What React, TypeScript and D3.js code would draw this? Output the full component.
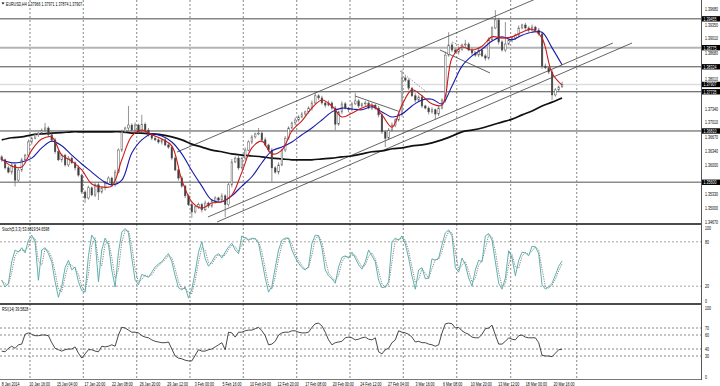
import React from 'react';
import * as d3 from 'd3';

// EURUSD H4, each candle here stands for about two H4 bars
const firstOpen = 1.362;
const closes = [
  1.3613, 1.3594, 1.3584, 1.3601, 1.3565, 1.3589, 1.3613, 1.3624, 1.3655, 1.3664,
  1.3672, 1.3676, 1.3683, 1.3688, 1.3672, 1.366, 1.3632, 1.3613, 1.3624, 1.3601,
  1.3617, 1.3606, 1.3594, 1.3577, 1.3537, 1.3523, 1.3547, 1.353, 1.3554, 1.3537,
  1.3547, 1.3558, 1.357, 1.3554, 1.3584, 1.3636, 1.3679, 1.3688, 1.3695, 1.3683,
  1.3695, 1.3679, 1.3697, 1.3683, 1.3672, 1.3664, 1.366, 1.3655, 1.366, 1.3648,
  1.3643, 1.3617, 1.3589, 1.357, 1.3551, 1.3528, 1.3507, 1.349, 1.3502, 1.3507,
  1.3495, 1.3511, 1.3504, 1.3516, 1.3523, 1.3518, 1.3528, 1.3507, 1.3554, 1.3608,
  1.3617, 1.3594, 1.3617, 1.3636, 1.3655, 1.3667, 1.3674, 1.3676, 1.366, 1.3648,
  1.3636, 1.3594, 1.3584, 1.3601, 1.3636, 1.3664, 1.3688, 1.37, 1.3707, 1.3714,
  1.3721, 1.3726, 1.3735, 1.3747, 1.3764, 1.3759, 1.3747, 1.3742, 1.3747, 1.3735,
  1.3697, 1.3726, 1.3745, 1.3735, 1.3731, 1.3745, 1.3752, 1.374, 1.3745, 1.3747,
  1.3735, 1.3742, 1.3735, 1.3719, 1.3679, 1.3664, 1.3683, 1.3695, 1.3707, 1.3721,
  1.3806, 1.3801, 1.3782, 1.3764, 1.3754, 1.3761, 1.374, 1.3735, 1.3726, 1.3731,
  1.3721, 1.3735, 1.3754, 1.386, 1.3884, 1.3872, 1.3867, 1.3874, 1.3884, 1.3886,
  1.3872, 1.3865, 1.386, 1.3872, 1.3858, 1.3853, 1.3896, 1.3924, 1.3943, 1.3891,
  1.3872, 1.3886, 1.3896, 1.39, 1.3907, 1.3924, 1.3931, 1.3924, 1.3919, 1.3926,
  1.3919, 1.391, 1.3834, 1.383, 1.382, 1.3766, 1.3778, 1.3785, 1.3791,
];
// wick lengths in pips above / below the body
const hiWick = [
  4, 3, 5, 6, 3, 4, 5, 3, 6, 4, 5, 3, 4, 12, 4, 3, 5, 6, 4, 3,
  5, 4, 3, 6, 3, 4, 5, 3, 4, 6, 3, 5, 4, 3, 6, 4, 5, 3, 45, 4,
  6, 3, 22, 4, 5, 3, 6, 4, 3, 5, 4, 3, 6, 4, 5, 3, 4, 6, 3, 5,
  4, 6, 3, 5, 4, 3, 6, 4, 5, 7, 4, 5, 3, 6, 4, 5, 3, 12, 4, 6,
  3, 5, 4, 6, 3, 5, 4, 3, 6, 4, 5, 3, 4, 6, 11, 4, 5, 3, 6, 4,
  5, 3, 6, 4, 3, 5, 19, 4, 3, 5, 4, 6, 3, 5, 4, 3, 5, 6, 4, 8,
  19, 5, 4, 3, 6, 4, 5, 3, 4, 6, 3, 5, 4, 8, 30, 5, 4, 6, 3, 10,
  4, 5, 3, 6, 4, 5, 6, 4, 23, 5, 4, 52, 3, 5, 4, 6, 3, 5, 4, 6,
  3, 5, 4, 6, 3, 5, 4, 3, 6,
];
const loWick = [
  5, 4, 3, 6, 15, 4, 5, 3, 4, 6, 3, 5, 4, 3, 6, 4, 5, 3, 6, 4,
  5, 3, 6, 4, 5, 12, 4, 3, 5, 19, 4, 6, 3, 5, 4, 3, 5, 4, 6, 3,
  5, 4, 3, 6, 4, 5, 3, 4, 6, 3, 4, 5, 3, 6, 4, 5, 3, 14, 4, 5,
  6, 3, 5, 4, 6, 3, 5, 29, 4, 6, 3, 5, 4, 6, 3, 5, 4, 3, 6, 4,
  5, 33, 4, 6, 3, 5, 4, 3, 6, 4, 3, 5, 4, 6, 3, 5, 4, 6, 3, 5,
  14, 4, 5, 3, 6, 4, 3, 5, 4, 6, 3, 5, 4, 6, 5, 21, 4, 3, 5, 4,
  6, 4, 5, 3, 6, 4, 5, 3, 6, 4, 14, 5, 3, 6, 4, 5, 3, 6, 4, 5,
  3, 6, 4, 5, 3, 6, 4, 5, 3, 6, 4, 5, 3, 6, 4, 5, 3, 4, 6, 3,
  5, 4, 6, 3, 5, 12, 4, 5, 2,
];

// moving averages, one value every third candle
const maRed = [
  1.3615, 1.3598, 1.3596, 1.3636, 1.3662, 1.3667, 1.3624, 1.361, 1.3589, 1.3556,
  1.3549, 1.3551, 1.3613, 1.3669, 1.3683, 1.3672, 1.3662, 1.3646, 1.3565, 1.3514,
  1.3499, 1.3511, 1.3514, 1.353, 1.3584, 1.3641, 1.3657, 1.3627, 1.3636, 1.3681,
  1.3705, 1.3735, 1.3754, 1.374, 1.3714, 1.3723, 1.3735, 1.3742, 1.3719, 1.369,
  1.3742, 1.3778, 1.3764, 1.3745, 1.3742, 1.3853, 1.3879, 1.3872, 1.3881, 1.3903,
  1.39, 1.3903, 1.3914, 1.3921, 1.39, 1.3818, 1.3789,
];
const maBlue = [
  1.3613, 1.3606, 1.3608, 1.3617, 1.3641, 1.3657, 1.3646, 1.3624, 1.3603, 1.3584,
  1.3565, 1.3554, 1.3565, 1.3629, 1.366, 1.3674, 1.3669, 1.3655, 1.3627, 1.3587,
  1.3551, 1.3518, 1.3514, 1.3528, 1.3551, 1.3573, 1.3606, 1.3634, 1.3643, 1.3655,
  1.3672, 1.3688, 1.3707, 1.3726, 1.3735, 1.3733, 1.3731, 1.3738, 1.3726, 1.3714,
  1.3721, 1.374, 1.3754, 1.3756, 1.3745, 1.3787, 1.3834, 1.3858, 1.3874, 1.3893,
  1.3903, 1.3896, 1.3907, 1.3914, 1.3914, 1.3877, 1.3837,
];
const maBlack = [
  1.366, 1.3665, 1.3667, 1.3672, 1.3674, 1.3676, 1.3677, 1.3679, 1.3679, 1.3679,
  1.3679, 1.3679, 1.3679, 1.3676, 1.3676, 1.3674, 1.3672, 1.3667, 1.366, 1.365,
  1.3643, 1.3636, 1.3632, 1.3627, 1.3624, 1.3622, 1.362, 1.3617, 1.3615, 1.3613,
  1.3613, 1.3613, 1.3615, 1.3617, 1.362, 1.3622, 1.3627, 1.3632, 1.3634, 1.3639,
  1.3641, 1.3646, 1.3648, 1.3653, 1.366, 1.3669, 1.3679, 1.3683, 1.3688, 1.3695,
  1.3702, 1.3709, 1.3719, 1.3728, 1.374, 1.3749, 1.3759,
];

const stochMain = [
  28, 19, 24, 53, 69, 66, 72, 65, 82, 89, 80, 28, 69, 72, 64, 53, 26, 5, 20, 45,
  55, 42, 46, 26, 14, 12, 61, 89, 82, 26, 69, 85, 76, 42, 19, 66, 93, 98, 92, 58,
  28, 22, 36, 34, 32, 39, 46, 50, 53, 59, 64, 53, 34, 18, 15, 19, 4, 16, 39, 66,
  80, 57, 47, 53, 61, 64, 58, 66, 73, 78, 69, 64, 88, 85, 82, 85, 84, 78, 55, 31,
  12, 20, 45, 69, 82, 85, 85, 69, 59, 51, 45, 42, 47, 78, 89, 88, 72, 42, 34, 30,
  24, 46, 59, 61, 58, 66, 58, 49, 43, 53, 69, 61, 53, 28, 18, 19, 26, 80, 85, 82,
  88, 77, 58, 34, 16, 42, 45, 30, 31, 57, 55, 58, 76, 92, 96, 88, 45, 39, 58, 49,
  31, 20, 42, 55, 53, 88, 91, 82, 53, 24, 16, 31, 68, 58, 34, 55, 66, 65, 61, 74,
  73, 64, 22, 16, 19, 24, 35, 47, 54,
];
const rsiValues = [
  37, 36, 41, 44, 41, 46, 47, 61, 63, 61, 59, 59, 60, 60, 59, 49, 41, 39, 37, 39,
  40, 40, 43, 34, 27, 33, 39, 39, 37, 36, 44, 43, 44, 46, 44, 60, 71, 70, 67, 64,
  64, 63, 59, 57, 56, 53, 51, 50, 49, 49, 50, 40, 30, 27, 26, 24, 23, 23, 31, 39,
  37, 37, 39, 40, 43, 46, 49, 39, 64, 63, 57, 64, 64, 66, 67, 67, 69, 71, 66, 59,
  46, 47, 51, 60, 63, 64, 64, 66, 66, 64, 63, 63, 64, 71, 76, 77, 73, 64, 53, 46,
  49, 50, 51, 56, 57, 56, 53, 54, 56, 57, 54, 53, 56, 36, 33, 39, 41, 49, 53, 66,
  64, 63, 61, 57, 50, 51, 49, 49, 47, 46, 44, 46, 63, 76, 77, 76, 70, 71, 66, 63,
  61, 57, 56, 56, 61, 69, 70, 74, 60, 47, 47, 51, 56, 54, 53, 59, 60, 57, 56, 56,
  56, 49, 31, 30, 30, 29, 34, 39, 39.58,
];

const dateLabels = [
  '8 Jan 2014', '10 Jan 16:00', '15 Jan 04:00', '17 Jan 20:00', '22 Jan 08:00',
  '26 Jan 20:00', '29 Jan 12:00', '3 Feb 00:00', '5 Feb 16:00', '10 Feb 04:00',
  '12 Feb 20:00', '17 Feb 08:00', '20 Feb 00:00', '24 Feb 12:00', '27 Feb 04:00',
  '3 Mar 16:00', '6 Mar 08:00', '10 Mar 20:00', '13 Mar 12:00', '18 Mar 00:00',
  '20 Mar 16:00',
];
const priceTicks = [
  1.3467, 1.35, 1.3533, 1.3567, 1.36, 1.3634, 1.3667, 1.3701,
  1.3734, 1.3767, 1.3801, 1.3834, 1.3868, 1.3901, 1.3935, 1.3968,
];
const gridBars = [16.4, 47.3, 78.3, 109.2, 140.1, 171.1, 202, 232.9, 263.9, 295.2, 333.5];
const stochTicks = [100, 80, 20, 0];
const stochLevels = [80, 20];
const rsiTicks = [100, 70, 60, 40, 30, 0];
const rsiLevels = [70, 60, 40, 30];

const lastBar = [1.37966, 1.37971, 1.37874, 1.37907];
const stochTitle = [53.6819, 54.6598];
const rsiTitle = 39.5828;

const levelPrices = [1.39455, 1.38775, 1.38324, 1.37907, 1.37735, 1.3681, 1.356];
const levelTones = ['dark', 'light', 'dark', 'faint', 'dark', 'dark', 'mid'];

// [bar, price] -> [bar, price]
const trendLines = [
  { from: [101.7, 1.36314], to: [330, 1.40277], dotted: false },
  { from: [119.6, 1.34781], to: [354.5, 1.38885], dotted: false },
  { from: [124.9, 1.34663], to: [365.6, 1.38885], dotted: false },
  { from: [204.9, 1.37635], to: [229.8, 1.37281], dotted: false },
  { from: [231, 1.38225], to: [247.2, 1.37706], dotted: true },
  { from: [254.2, 1.3872], to: [283.2, 1.38178], dotted: false },
  { from: [261.2, 1.38909], to: [278.6, 1.38602], dotted: true },
];

const W = 720;
const H = 386;
const AXIS_X = 701;
const BARS_PER_CANDLE = 325 / 168;
const FONT = "'Liberation Sans', Arial, sans-serif";
const BOX_H = 5.4;

const T: React.FC<{ x: number; y: number; fill?: string; size?: number; children: React.ReactNode }> = ({ x, y, fill = '#000', size = 5.6, children }) => (
  <text transform={`translate(${x},${y}) scale(0.64,1)`} fontSize={size} fontFamily={FONT} fill={fill}>
    {children}
  </text>
);

const toneStyle: Record<string, { stroke: string; width: number }> = {
  dark: { stroke: '#4a4a4a', width: 1 },
  light: { stroke: '#b4b4b4', width: 2 },
  faint: { stroke: '#dedede', width: 1.5 },
  mid: { stroke: '#8c8c8c', width: 1.3 },
};

export default function App() {
  const x = d3.scaleLinear().domain([-1, 405]).range([0, 700]);
  const y = d3.scaleLinear().domain([1.3467, 1.3968]).range([221.7, 9.3]);
  const ys = d3.scaleLinear().domain([0, 100]).range([301, 227]);
  const yr = d3.scaleLinear().domain([0, 100]).range([377, 307]);
  const cx = (k: number) => x(k * BARS_PER_CANDLE);

  const maLine = d3
    .line<number>()
    .x((_, j) => cx(j * 3))
    .y((v) => y(v))
    .curve(d3.curveCatmullRom.alpha(0.5));

  const stochSignal = stochMain.map((_, i) => d3.mean(stochMain.slice(Math.max(0, i - 1), i + 1)) as number);
  const stochLine = d3.line<number>().x((_, i) => cx(i)).y((v) => ys(v));
  const rsiLine = d3.line<number>().x((_, i) => cx(i)).y((v) => yr(v));

  // price labels: hidden when a level box covers them, nudged clear when they only touch one
  const boxYs = levelPrices.map((p) => y(p));
  const tickLabels = priceTicks
    .map((p) => {
      let ty = y(p);
      const near = boxYs.reduce((a, b) => (Math.abs(b - ty) < Math.abs(a - ty) ? b : a), -999);
      const gap = ty - near;
      if (Math.abs(gap) < 3) return null;
      if (Math.abs(gap) < 5.8) ty = near + Math.sign(gap) * 5.8;
      return { p, ty };
    })
    .filter((d): d is { p: number; ty: number } => d !== null);

  return (
    <svg width={W} height={H} style={{ position: 'absolute', left: 0, top: 0, background: '#fff' }}>
      <defs>
        <clipPath id="main">
          <rect x={0} y={0} width={AXIS_X} height={223} />
        </clipPath>
      </defs>
      <rect width={W} height={H} fill="#fff" />

      {/* vertical grid */}
      {gridBars.map((b, i) => (
        <line key={i} x1={x(b)} x2={x(b)} y1={0} y2={380} stroke="#6a6a6a" strokeWidth={0.8} strokeDasharray="2,2" />
      ))}

      {/* oscillator level lines */}
      {stochLevels.map((v) => (
        <line key={'s' + v} x1={0} x2={AXIS_X} y1={ys(v)} y2={ys(v)} stroke="#8a8a8a" strokeWidth={0.8} strokeDasharray="2,2" />
      ))}
      {rsiLevels.map((v) => (
        <line key={'r' + v} x1={0} x2={AXIS_X} y1={yr(v)} y2={yr(v)} stroke="#6a6a6a" strokeWidth={0.8} strokeDasharray="2,2" />
      ))}

      <g clipPath="url(#main)">
        {levelPrices.map((p, i) => (
          <line key={i} x1={0} x2={AXIS_X} y1={y(p)} y2={y(p)} stroke={toneStyle[levelTones[i]].stroke} strokeWidth={toneStyle[levelTones[i]].width} />
        ))}
        {trendLines.map((t, i) => (
          <line
            key={i}
            x1={x(t.from[0])}
            y1={y(t.from[1])}
            x2={x(t.to[0])}
            y2={y(t.to[1])}
            stroke={t.dotted ? '#777' : '#3c3c3c'}
            strokeWidth={0.8}
            strokeDasharray={t.dotted ? '1.5,1.5' : undefined}
          />
        ))}
        <path d={maLine(maBlack) || ''} fill="none" stroke="#111" strokeWidth={1.7} />
        {closes.map((c, k) => {
          const o = k === 0 ? firstOpen : closes[k - 1];
          const hi = Math.max(o, c) + hiWick[k] / 10000;
          const lo = Math.min(o, c) - loWick[k] / 10000;
          const xc = cx(k);
          const top = y(Math.max(o, c));
          const bot = y(Math.min(o, c));
          return (
            <g key={k}>
              <line x1={xc} x2={xc} y1={y(hi)} y2={y(lo)} stroke="#666" strokeWidth={0.7} />
              <rect x={xc - 0.8} y={top} width={1.6} height={Math.max(0.7, bot - top)} fill={c >= o ? '#fff' : '#3a3a3a'} stroke="#555" strokeWidth={0.5} />
            </g>
          );
        })}
        <path d={maLine(maBlue) || ''} fill="none" stroke="#1a1aa8" strokeWidth={1.1} />
        <path d={maLine(maRed) || ''} fill="none" stroke="#cc1a1a" strokeWidth={1.1} />
      </g>

      {/* oscillators */}
      <path d={stochLine(stochSignal) || ''} fill="none" stroke="#666" strokeWidth={0.8} strokeDasharray="1.2,1.2" />
      <path d={stochLine(stochMain) || ''} fill="none" stroke="#4ea8a4" strokeWidth={0.9} />
      <path d={rsiLine(rsiValues) || ''} fill="none" stroke="#333" strokeWidth={0.9} />

      {/* panel frames */}
      <line x1={0} x2={AXIS_X} y1={224} y2={224} stroke="#111" strokeWidth={1.6} />
      <line x1={0} x2={AXIS_X} y1={304} y2={304} stroke="#111" strokeWidth={1.6} />
      <line x1={0} x2={AXIS_X} y1={379.5} y2={379.5} stroke="#555" strokeWidth={0.8} />
      <line x1={AXIS_X + 0.5} x2={AXIS_X + 0.5} y1={0} y2={380} stroke="#555" strokeWidth={1} />

      {/* price axis */}
      {tickLabels.map((d) => (
        <T key={d.p} x={705} y={d.ty + 2}>
          {d.p.toFixed(5)}
        </T>
      ))}
      {levelPrices.map((p, i) => (
        <g key={i}>
          <rect x={702} y={y(p) - BOX_H / 2} width={18} height={BOX_H} fill="#000" />
          <T x={703.5} y={y(p) + 2} fill="#fff">
            {p.toFixed(5)}
          </T>
        </g>
      ))}
      {stochTicks.map((v) => (
        <T key={'st' + v} x={705} y={ys(v) + (v === 100 ? 3.2 : 2)}>
          {v}
        </T>
      ))}
      {rsiTicks.map((v) => (
        <T key={'rt' + v} x={705} y={yr(v) + (v === 100 ? 3.2 : 2)}>
          {v}
        </T>
      ))}

      {/* time axis */}
      {dateLabels.map((d, i) => (
        <T key={d} x={x(i * 16)} y={385.5}>
          {d}
        </T>
      ))}

      {/* titles */}
      <path d="M1.5,2.5 L4.5,2.5 L3,4.5 Z" fill="#000" />
      <T x={6} y={6}>{`EURUSD,H4 ${lastBar.map((v) => v.toFixed(5)).join(' ')}`}</T>
      <T x={2} y={230.5}>{`Stoch(5,3,3) ${stochTitle[0].toFixed(4)} ${stochTitle[1].toFixed(4)}`}</T>
      <T x={2} y={310.5}>{`RSI(14) ${rsiTitle.toFixed(4)}`}</T>
    </svg>
  );
}
